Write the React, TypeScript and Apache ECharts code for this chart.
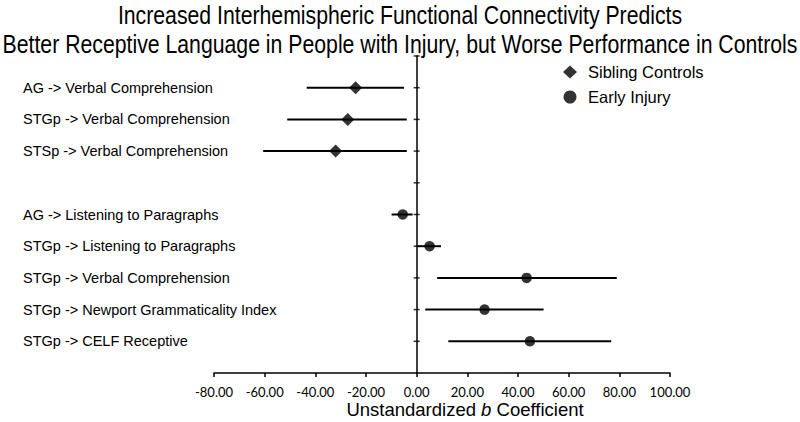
import React, { useEffect, useRef } from "react";
import * as echarts from "echarts";

const titleLines = [
  "Increased Interhemispheric Functional Connectivity Predicts",
  "Better Receptive Language in People with Injury, but Worse Performance in Controls",
];

const categories = [
  "AG -> Verbal Comprehension",
  "STGp -> Verbal Comprehension",
  "STSp -> Verbal Comprehension",
  "",
  "AG -> Listening to Paragraphs",
  "STGp -> Listening to Paragraphs",
  "STGp -> Verbal Comprehension",
  "STGp -> Newport Grammaticality Index",
  "STGp -> CELF Receptive",
];

// Sibling Controls (rows 0..2)
const controlRows = [0, 1, 2];
const controlEst = [-24.1, -27.2, -32.0];
const controlLo = [-43.4, -51.1, -60.6];
const controlHi = [-5.0, -3.9, -3.9];

// Early Injury (rows 4..8)
const injuryRows = [4, 5, 6, 7, 8];
const injuryEst = [-5.5, 5.1, 43.4, 26.8, 44.7];
const injuryLo = [-9.9, 0.3, 8.1, 3.4, 12.5];
const injuryHi = [-1.6, 9.6, 79.0, 50.1, 76.8];

const xMin = -80;
const xMax = 100;
const xInterval = 20;
const yTicks = [1, 2, 3, 4, 5, 6, 7, 8, 9, 10];

const FONT = "'Liberation Sans', Arial, Helvetica, sans-serif";

export default function App() {
  const ref = useRef<HTMLDivElement>(null);
  useEffect(() => {
    if (!ref.current) return;
    const chart = echarts.init(ref.current, null, { renderer: "svg" });
    const nRows = categories.length;
    const rowY = (i: number) => nRows - i;

    const barRender = (params: any, api: any) => {
      const p1 = api.coord([api.value(0), api.value(2)]);
      const p2 = api.coord([api.value(1), api.value(2)]);
      return {
        type: "line",
        shape: { x1: p1[0], y1: p1[1], x2: p2[0], y2: p2[1] },
        style: { stroke: "#000", lineWidth: 2 },
      };
    };

    chart.setOption({
      animation: false,
      legend: {
        orient: "vertical",
        left: 558,
        top: 58.5,
        itemWidth: 14,
        itemHeight: 13,
        itemGap: 8,
        data: [
          { name: "Sibling Controls", icon: "diamond" },
          { name: "Early Injury", icon: "circle" },
        ],
        textStyle: {
          fontFamily: FONT,
          fontSize: 16.5,
          lineHeight: 17,
          color: "#000",
          padding: [0, 0, 0, 6],
        },
      },
      grid: { left: 214, right: 130, top: 56, bottom: 49, containLabel: false },
      xAxis: {
        type: "value",
        min: xMin,
        max: xMax,
        interval: xInterval,
        axisLine: { show: true, onZero: false, lineStyle: { color: "#000", width: 1.5 } },
        axisTick: { show: true, length: 4, lineStyle: { color: "#000", width: 1.5 } },
        splitLine: { show: false },
        axisLabel: {
          fontFamily: "Lato, 'Open Sans', sans-serif",
          fontSize: 13,
          color: "#000",
          margin: 12,
          formatter: (v: number) => v.toFixed(2),
        },
      },
      yAxis: [
        {
          type: "value",
          min: 0,
          max: 10,
          interval: 1,
          axisLine: { show: true, onZero: true, lineStyle: { color: "#000", width: 1.5 } },
          axisTick: { show: false },
          axisLabel: { show: false },
          splitLine: { show: false },
        },
        {
          type: "value",
          min: 0,
          max: 10,
          interval: 1,
          position: "left",
          axisLine: { show: false },
          axisTick: { show: false },
          splitLine: { show: false },
          axisLabel: {
            show: true,
            align: "left",
            margin: 191,
            fontFamily: FONT,
            fontSize: 14.5,
            color: "#000",
            formatter: (v: number) => {
              const i = nRows - v;
              return i >= 0 && i < nRows ? categories[i] : "";
            },
          },
        },
      ],
      graphic: [
        {
          type: "text",
          x: 400,
          y: 15,
          scaleX: 0.85,
          style: {
            text: titleLines[0],
            align: "center",
            verticalAlign: "middle",
            fontFamily: FONT,
            fontSize: 25,
            fill: "#000",
          },
        },
        {
          type: "text",
          x: 400,
          y: 44,
          scaleX: 0.85,
          style: {
            text: titleLines[1],
            align: "center",
            verticalAlign: "middle",
            fontFamily: FONT,
            fontSize: 25,
            fill: "#000",
          },
        },
        {
          type: "text",
          x: 465,
          y: 409,
          style: {
            text: "{n|Unstandardized }{i|b}{n| Coefficient}",
            align: "center",
            verticalAlign: "middle",
            rich: {
              n: { fontFamily: FONT, fontSize: 18.5, lineHeight: 15, fill: "#000" },
              i: { fontFamily: FONT, fontSize: 18.5, lineHeight: 15, fontStyle: "italic", fill: "#000" },
            },
          },
        },
      ],
      series: [
        {
          name: "ticks",
          type: "scatter",
          silent: true,
          symbol: "rect",
          symbolSize: [6, 1.5],
          itemStyle: { color: "#000" },
          data: yTicks.map((t) => [0, t]),
          z: 1,
        },
        {
          name: "controlBars",
          type: "custom",
          renderItem: barRender,
          encode: { x: [0, 1], y: 2 },
          data: controlRows.map((r, k) => [controlLo[k], controlHi[k], rowY(r)]),
          z: 2,
        },
        {
          name: "injuryBars",
          type: "custom",
          renderItem: barRender,
          encode: { x: [0, 1], y: 2 },
          data: injuryRows.map((r, k) => [injuryLo[k], injuryHi[k], rowY(r)]),
          z: 2,
        },
        {
          name: "Sibling Controls",
          type: "scatter",
          symbol: "diamond",
          symbolSize: 13,
          itemStyle: { color: "#000" },
          data: controlRows.map((r, k) => [controlEst[k], rowY(r)]),
          z: 3,
        },
        {
          name: "Early Injury",
          type: "scatter",
          symbol: "circle",
          symbolSize: 10.5,
          itemStyle: { color: "#000" },
          data: injuryRows.map((r, k) => [injuryEst[k], rowY(r)]),
          z: 3,
        },
      ],
    });
    return () => chart.dispose();
  }, []);
  return (
    <div
      ref={ref}
      style={{ position: "absolute", left: 0, top: 0, width: 800, height: 422, background: "#fff" }}
    />
  );
}
